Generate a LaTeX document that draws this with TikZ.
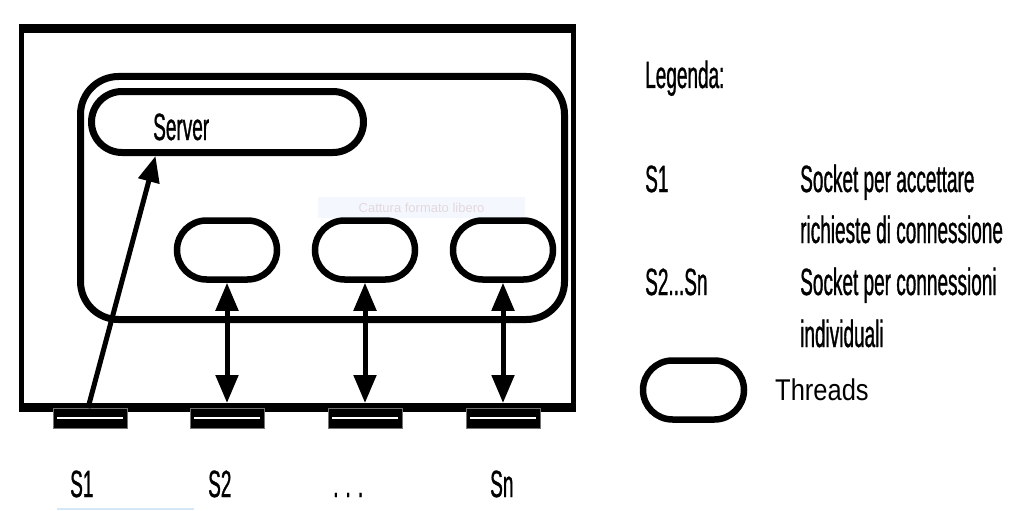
\documentclass[tikz,border=0pt]{standalone}
\usepackage{fontspec}
\setmainfont{Liberation Sans}
\newfontfamily\nfont[FakeStretch=0.5,FakeBold=0.8]{Liberation Sans}
\newfontfamily\tfont[FakeStretch=0.85]{Liberation Sans}
\usetikzlibrary{arrows.meta,shapes.misc}
\definecolor{faintbox}{HTML}{F4F8FE}
\definecolor{fainttxt}{HTML}{E4D8DD}
\definecolor{faintline}{HTML}{D6E7F7}
\begin{document}
\begin{tikzpicture}[x=1pt,y=-1pt,
  lbl/.style={inner sep=0pt, anchor=base west, font=\nfont\fontsize{38}{40}\selectfont},
  framebox/.style={draw, rectangle, line width=5pt, minimum width=552pt, minimum height=378.5pt, inner sep=0pt, outer sep=0pt},
  procbox/.style={draw, rectangle, rounded corners=38pt, line width=7pt, minimum width=484pt, minimum height=243pt, inner sep=0pt},
  serverbox/.style={draw, rounded rectangle, line width=7pt, minimum width=272pt, minimum height=61pt, inner sep=0pt},
  thread/.style={draw, rounded rectangle, line width=6.5pt, minimum width=100pt, minimum height=59pt, inner sep=0pt},
  socket/.style={rectangle, fill=black, draw=black!55, line width=0.8pt, minimum width=74pt, minimum height=20pt, inner sep=0pt, outer sep=0pt,
    path picture={\draw[white, line width=1.8pt] ([xshift=4pt]path picture bounding box.west) -- ([xshift=-4pt]path picture bounding box.east);}},
  biarrow/.style={line width=5pt, {Triangle[length=28pt,width=22pt]}-{Triangle[length=28pt,width=22pt]}},
  onearrow/.style={line width=5pt, -{Triangle[length=26pt,width=21pt]}}
]
\fill[white] (0,0) rectangle (1012,511);
\useasboundingbox (0,0) rectangle (1012,511);

% faint screen-capture artefacts
\node[fill=faintbox, minimum width=207pt, minimum height=21pt, inner sep=0pt, text=fainttxt, font=\fontsize{13}{15}\selectfont] (cap) at (421.5,207.5) {Cattura formato libero};
\draw[faintline, line width=2pt] (57,509) -- (194,509);

% outer frame
\node[framebox] (frame) at (297,217.75) {};
\draw[line width=9pt] ([xshift=-2.5pt]frame.north west) -- ([xshift=2.5pt]frame.north east);
\draw[line width=9pt] ([xshift=-2.5pt]frame.south west) -- ([xshift=2.5pt]frame.south east);

% process container
\node[procbox] (proc) at (322.5,198) {};

% server
\node[serverbox] (srv) at (227.5,122) {};
\node[lbl] (srvtxt) at (153,140) {Server};

% threads
\node[thread] (t1) at (227,250) {};
\node[thread] (t2) at (365,250) {};
\node[thread] (t3) at (503,250) {};

% sockets
\node[socket] (s1) at (90,418) {};
\node[socket] (s2) at (227,418) {};
\node[socket] (s3) at (365,418) {};
\node[socket] (sn) at (503,418) {};

% connectors
\draw[onearrow] ([xshift=-2pt]s1.north) -- ([xshift=-72pt]srv.south);
\draw[biarrow] ([yshift=5pt]s2.north) -- (t1.south);
\draw[biarrow] ([yshift=5pt]s3.north) -- (t2.south);
\draw[biarrow] ([yshift=5pt]sn.north) -- (t3.south);

% socket labels
\node[lbl] (ls1) at (70,497) {S1};
\node[lbl] (ls2) at (208,497) {S2};
\node[lbl] (ls3) at (333,497) {. . .};
\node[lbl] (lsn) at (490,497) {Sn};

% legend
\node[lbl] (leg) at (645,88) {Legenda:};
\node[lbl] (lg1) at (645,192) {S1};
\node[lbl] (lg1a) at (800,192) {Socket per accettare};
\node[lbl] (lg1b) at (800,243) {richieste di connessione};
\node[lbl] (lg2) at (645,295) {S2...Sn};
\node[lbl] (lg2a) at (800,295) {Socket per connessioni};
\node[lbl] (lg2b) at (800,347) {individuali};
\node[thread, minimum width=101pt] (lgt) at (693.5,390) {};
\node[inner sep=0pt, anchor=base west, font=\tfont\fontsize{30}{32}\selectfont] (lgtt) at (775,400) {Threads};
\end{tikzpicture}
\end{document}
